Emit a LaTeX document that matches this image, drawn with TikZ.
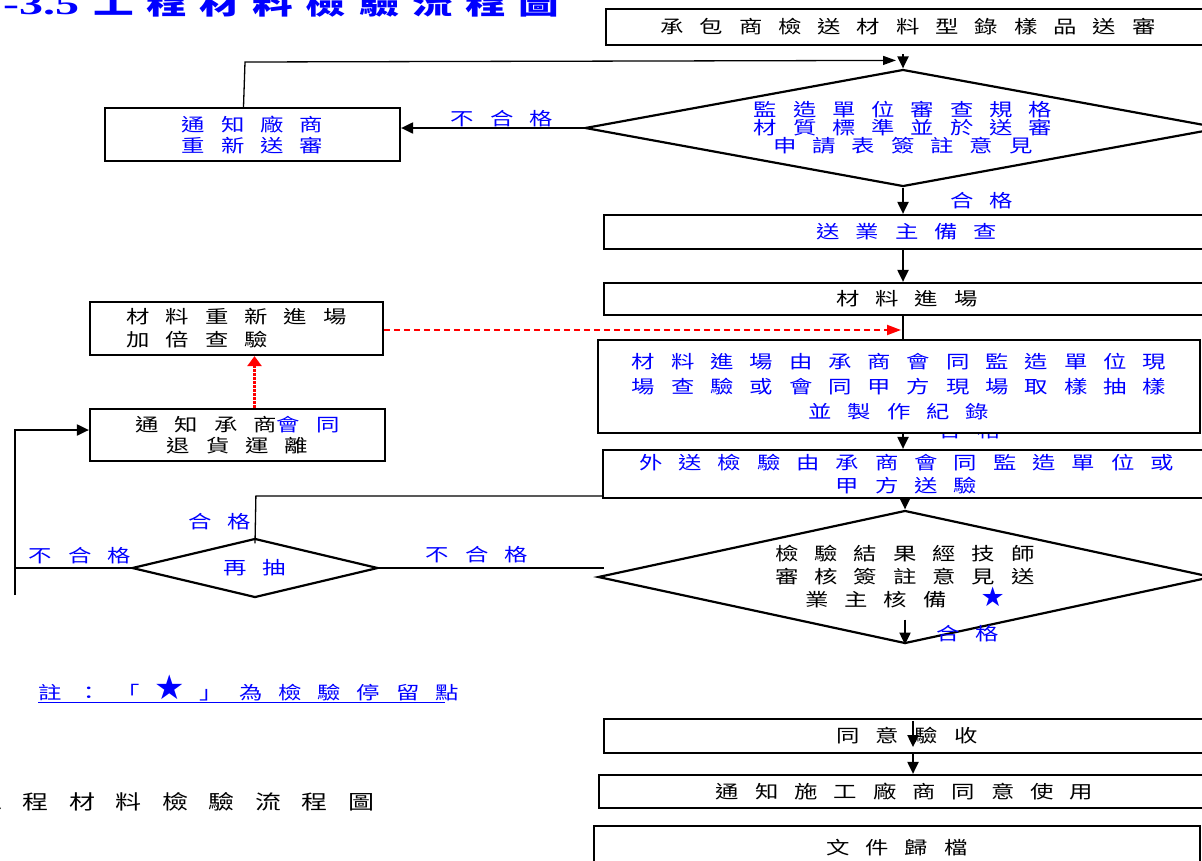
\documentclass[tikz,border=0pt]{standalone}
\usepackage{fontspec}
\usepackage{graphicx}
\usetikzlibrary{shapes.geometric,arrows.meta}
\newfontfamily\cjk[LetterSpace=68]{Noto Sans CJK TC}
\newfontfamily\cjkcap[LetterSpace=79]{Noto Sans CJK TC}
\newfontfamily\cjktitle[LetterSpace=31]{Noto Sans CJK TC}
\newfontfamily\lattitle{Liberation Serif}
\newfontfamily\symf{DejaVu Sans}
\definecolor{pblue}{RGB}{0,0,255}
\newcommand\fsz[2]{\fontsize{#1}{#2}\selectfont}
\newcommand\sx[1]{\scalebox{1.3}[1]{#1}}
\tikzset{
  box/.style={draw=black, line width=2.2pt, fill=white, inner sep=0pt, align=center},
  dia/.style={diamond, draw=black, line width=2.2pt, fill=white, inner sep=0pt, align=center},
  arr/.style={line width=2pt, -{Triangle[length=12pt,width=11pt]}},
  ln/.style={line width=2pt},
  thinln/.style={line width=1.3pt},
  thinarr/.style={line width=1.3pt, -{Triangle[length=13pt,width=9pt]}},
  lbl/.style={text=pblue, inner sep=0pt, font=\cjk\fsz{18}{20}},
  reddash/.style={draw=red, line width=2pt, dash pattern=on 6pt off 4pt, -{Triangle[length=14pt,width=10pt]}, red},
  reddot/.style={draw=red, line width=3.5pt, dash pattern=on 2.5pt off 1.5pt, -{Triangle[length=10pt,width=14pt]}, red},
}
\begin{document}
\begin{tikzpicture}[x=1pt,y=-1pt]
\path[use as bounding box] (0,0) rectangle (1202,860);
\clip (0,0) rectangle (1202,860);
\fill[white] (0,0) rectangle (1202,860);

% title
\node[anchor=base west, inner sep=0pt, text=pblue] (title) at (3,14)
  {\scalebox{1.6}[1]{\lattitle\bfseries\fsz{30}{30}-3.5}\hspace{14pt}\scalebox{1.45}[1]{\cjktitle\bfseries\fsz{28}{30}工程材料檢驗流程圖}};

% hidden label (behind box F)
\node[lbl] (lhid) at (970,431) {\sx{合格}};

% boxes
\node[box, minimum width=604, minimum height=36, font=\cjk\fsz{18}{20}] (A) at (908,27) {\sx{承包商檢送材料型錄樣品送審}};
\node[dia, minimum width=636, minimum height=117, shape aspect=5.4, text=pblue, font=\cjk\fsz{18}{18}] (B) at (903,128)
  {\sx{監造單位審查規格}\\\sx{材質標準並於送審}\\\sx{申請表簽註意見}};
\node[box, minimum width=295, minimum height=53, text=pblue, font=\cjk\fsz{18}{21}] (C) at (252.5,134.5) {\sx{通知廠商}\\\sx{重新送審}};
\node[box, minimum width=606, minimum height=34, text=pblue, font=\cjk\fsz{18}{20}] (D) at (907,232) {\sx{送業主備查}};
\node[box, minimum width=606, minimum height=32, font=\cjk\fsz{18}{20}] (E) at (907,299) {\sx{材料進場}};
\node[box, minimum width=293, minimum height=53, align=left, font=\cjk\fsz{18}{23}] (G) at (236.5,328.5) {\sx{材料重新進場}\\\sx{加倍查驗}};
\node[box, minimum width=602, minimum height=93, text=pblue, font=\cjk\fsz{18}{25}] (F) at (899,386.5)
  {\sx{材料進場由承商會同監造單位現}\\\sx{場查驗或會同甲方現場取樣抽樣}\\\sx{並製作紀錄}};
\node[box, minimum width=295, minimum height=52, font=\cjk\fsz{18}{21}] (J) at (237.5,435)
  {\sx{通知承商{\color{pblue}會同}}\\\sx{退貨運離}};
\node[box, minimum width=607, minimum height=48, text=pblue, font=\cjk\fsz{18}{23}] (H) at (906.5,474)
  {\sx{外送檢驗由承商會同監造單位或}\\\sx{甲方送驗}};
\node[dia, minimum width=614, minimum height=133, shape aspect=4.6, font=\cjk\fsz{18}{23}] (I) at (905,577)
  {\sx{檢驗結果經技師}\\\sx{審核簽註意見送}\\\sx{業主核備}\hspace{34pt}{\symf\fsz{27}{23}\color{pblue}★}};
\node[dia, minimum width=246, minimum height=59, shape aspect=4.2, text=pblue, font=\cjk\fsz{18}{20}] (R) at (255,568) {\sx{再抽}};
\node[box, minimum width=606, minimum height=34, font=\cjk\fsz{18}{20}] (K) at (907,736) {\sx{同意驗收}};
\node[box, minimum width=611, minimum height=33, font=\cjk\fsz{18}{20}] (L) at (904.5,791.5) {\sx{通知施工廠商同意使用}};
\node[box, minimum width=606, minimum height=44, font=\cjk\fsz{18}{20}] (M) at (897,848) {\sx{文件歸檔}};

% note and caption
\node[anchor=base west, inner sep=0pt, text=pblue, font=\cjk\fsz{18}{20}] (note) at (38,699)
  {\sx{註：「}\hspace{14pt}{\symf\fsz{34}{20}★}\hspace{15pt}\sx{」為檢驗停留點}};
\draw[pblue, line width=1pt] ([yshift=-3pt]note.base west) -- ([yshift=-3pt,xshift=-14pt]note.base east);
\node[anchor=base west, inner sep=0pt, font=\cjkcap\fsz{20}{20}] (cap) at (-24,809) {\sx{工程材料檢驗流程圖}};

% labels
\node[lbl] (l1) at (502,119) {\sx{不合格}};
\node[lbl] (l2) at (982,201) {\sx{合格}};
\node[lbl] (l3) at (220,522) {\sx{合格}};
\node[lbl] (l4) at (80,556) {\sx{不合格}};
\node[lbl] (l5) at (477,555) {\sx{不合格}};
\node[lbl] (l6) at (968,634) {\sx{合格}};

% coordinates
\coordinate (loopc) at (245,62);
\coordinate (lx) at (15,595);
\coordinate (lt) at (15,430);

% connectors
\draw[arr] ([yshift=-8pt]A.south -| B.north) -- (B.north);
\draw[thinarr] ([xshift=-9pt]C.north) -- (loopc) -- ([xshift=-7pt,yshift=8pt]B.north);
\draw[arr] (B.west) -- (B.west -| C.east);
\draw[arr] (B.south) -- (D.north -| B.south);
\draw[arr] (D.south -| B.south) -- (E.north -| B.south);
\draw[ln] (E.south -| B.south) -- (F.north -| B.south);
\draw[reddash, shorten >=2pt] (G.east |- 0,330) -- (B.south |- 0,330);
\draw[reddot] ([xshift=17pt]J.north) -- ([xshift=17pt]J.north |- G.south);
\draw[arr] (F.south -| B.south) -- (H.north -| B.south);
\draw[arr] (H.south -| I.north) -- (I.north);
\draw[thinln] ([yshift=-22pt]H.west) -- ++(-346,0) -- ([yshift=-6pt]R.north);
\draw[ln] (R.east) -- ([xshift=7pt]R.east -| I.west);
\draw[ln] (R.west) -- (R.west -| lx);
\draw[ln] (lx) -- (lt);
\draw[arr] ([xshift=-1pt]lt) -- (lt -| J.west);
\draw[arr] ([yshift=25pt]I.south) -- (I.south);
\draw[arr] ([xshift=6pt,yshift=-3pt]K.north) -- ([xshift=6pt,yshift=7pt]K.south);
\draw[arr] ([xshift=6pt]K.south) -- ([xshift=6pt]K.south |- L.north);
\end{tikzpicture}
\end{document}
